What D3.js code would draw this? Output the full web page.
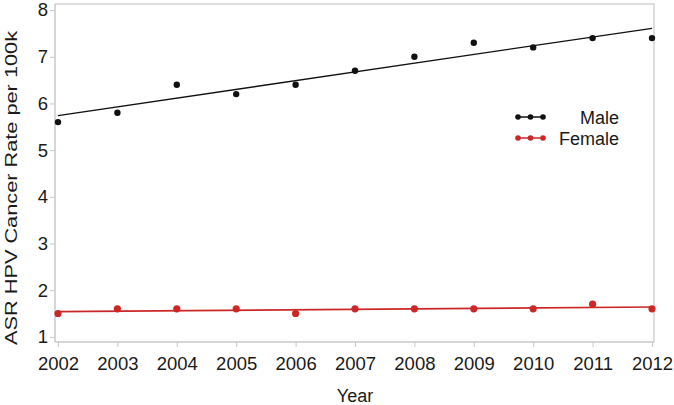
<!DOCTYPE html>
<html>
<head>
<meta charset="utf-8">
<script src="https://cdn.jsdelivr.net/npm/d3@7"></script>
<style>
  html, body { margin: 0; padding: 0; background: #fff; }
  svg text { font-family: "Liberation Sans", Arial, sans-serif; fill: #1a1a1a; }
</style>
</head>
<body>
<svg id="chart" width="674" height="405"></svg>
<script>
// data
const years = [2002, 2003, 2004, 2005, 2006, 2007, 2008, 2009, 2010, 2011, 2012];
const maleRate = [5.6, 5.8, 6.4, 6.2, 6.4, 6.7, 7.0, 7.3, 7.2, 7.4, 7.4];
const femaleRate = [1.5, 1.6, 1.6, 1.6, 1.5, 1.6, 1.6, 1.6, 1.6, 1.7, 1.6];
// fitted trend line end points (2002, 2012)
const maleFit = [5.74, 7.61];
const femaleFit = [1.54, 1.64];
const yTicks = [1, 2, 3, 4, 5, 6, 7, 8];
const seriesNames = ["Male", "Female"];

const colors = { Male: "#111", Female: "#cc2727" };

const svg = d3.select("#chart");
const frame = { left: 55, right: 654, top: 4, bottom: 342 };

const x = d3.scaleLinear().domain([2002, 2012]).range([58, 652]);
const y = d3.scaleLinear().domain([0.89, 8.13]).range([frame.bottom, frame.top]);

// frame (top + right)
svg.append("path")
  .attr("d", `M${frame.left},${frame.top}H${frame.right}V${frame.bottom}`)
  .attr("fill", "none")
  .attr("stroke", "#d4d4d4")
  .attr("stroke-width", 1.5);

// x axis
const xAxis = svg.append("g")
  .attr("transform", `translate(0,${frame.bottom})`)
  .call(d3.axisBottom(x).tickValues(years).tickFormat(d3.format("d")).tickSize(5).tickPadding(10));
xAxis.select(".domain").attr("d", `M${frame.left},0H${frame.right}`).attr("stroke", "#c8c8c8").attr("stroke-width", 1.5);
xAxis.selectAll(".tick line").attr("stroke", "#c8c8c8");
xAxis.selectAll(".tick text").style("font-size", "18.5px").attr("fill", "#1a1a1a");

// y axis
const yAxis = svg.append("g")
  .attr("transform", `translate(${frame.left},0)`)
  .call(d3.axisLeft(y).tickValues(yTicks).tickSize(5).tickPadding(2));
yAxis.select(".domain").attr("d", `M0,${frame.top}V${frame.bottom}`).attr("stroke", "#c8c8c8").attr("stroke-width", 1.5);
yAxis.selectAll(".tick line").attr("stroke", "#c8c8c8");
yAxis.selectAll(".tick text").style("font-size", "18.5px").attr("fill", "#1a1a1a");

// axis titles
svg.append("text")
  .attr("transform", `translate(17,188) rotate(-90)`)
  .attr("text-anchor", "middle")
  .attr("textLength", 314)
  .attr("lengthAdjust", "spacingAndGlyphs")
  .style("font-size", "17px")
  .text("ASR HPV Cancer Rate per 100k");

svg.append("text")
  .attr("x", 355)
  .attr("y", 402)
  .attr("text-anchor", "middle")
  .style("font-size", "18px")
  .text("Year");

// trend lines
const fitLine = d3.line().x(d => x(d[0])).y(d => y(d[1]));
const fits = [
  { name: "Male", pts: [[years[0], maleFit[0]], [years[years.length - 1], maleFit[1]]], w: 1.3 },
  { name: "Female", pts: [[years[0], femaleFit[0]], [years[years.length - 1], femaleFit[1]]], w: 1.6 }
];
svg.selectAll("path.fit")
  .data(fits)
  .enter()
  .append("path")
  .attr("class", "fit")
  .attr("d", d => fitLine(d.pts))
  .attr("fill", "none")
  .attr("stroke", d => colors[d.name])
  .attr("stroke-width", d => d.w);

// points
const series = [
  { name: "Male", values: maleRate, r: 3.2 },
  { name: "Female", values: femaleRate, r: 3.6 }
];
series.forEach(s => {
  svg.selectAll(`circle.pt-${s.name}`)
    .data(years.map((yr, i) => ({ yr, v: s.values[i] })))
    .enter()
    .append("circle")
    .attr("class", `pt-${s.name}`)
    .attr("cx", d => x(d.yr))
    .attr("cy", d => y(d.v))
    .attr("r", s.r)
    .attr("fill", colors[s.name]);
});

// legend
const legend = svg.append("g").attr("transform", "translate(518,117)");
seriesNames.forEach((name, i) => {
  const g = legend.append("g").attr("transform", `translate(0,${i * 21})`);
  g.append("line").attr("x1", 0).attr("x2", 25).attr("y1", 0).attr("y2", 0)
    .attr("stroke", colors[name]).attr("stroke-width", 1.5);
  [0, 12.5, 25].forEach(cx => {
    g.append("circle").attr("cx", cx).attr("cy", 0).attr("r", 2.8).attr("fill", colors[name]);
  });
  g.append("text")
    .attr("x", 101)
    .attr("y", 6.5)
    .attr("text-anchor", "end")
    .style("font-size", "18px")
    .text(name);
});
</script>
</body>
</html>
